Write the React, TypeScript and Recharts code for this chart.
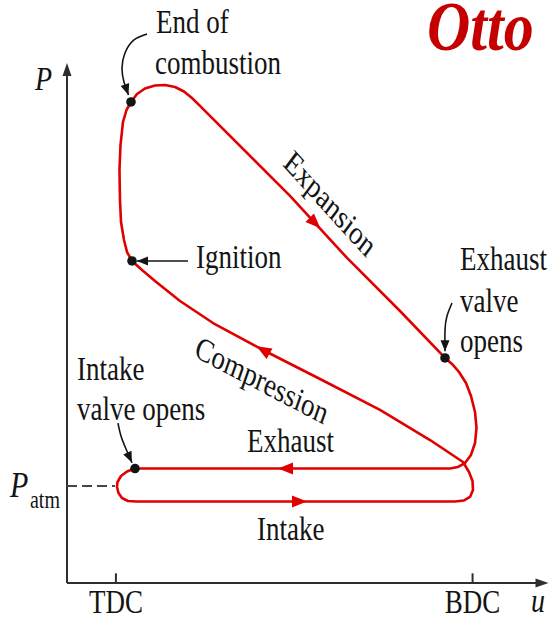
import { ComposedChart, Line, Scatter, XAxis, YAxis, ReferenceLine } from 'recharts'

const RED = '#e00000'
const INK = '#141414'
const AXIS = '#2e2e2e'
const SERIF = "'Liberation Serif', 'Times New Roman', serif"

const WIDTH = 551
const HEIGHT = 622
const MARGIN = { top: 0, right: 2, bottom: 0, left: 67 }
const X_AXIS_H = 39

// specific volume: TDC = 1, BDC = 8 ; pressure: P_atm = 1
const TDC = 1
const BDC = 8
const P_ATM = 1
const V_MIN = 0.04
const V_MAX = 9.5
const P_MAX = 6.01
const P_AXIS_TOP = 5.36

const PX_PER_V = (WIDTH - MARGIN.left - MARGIN.right) / (V_MAX - V_MIN)
const PX_PER_P = (HEIGHT - X_AXIS_H) / P_MAX

// the cycle, stroke by stroke, as [v, P]
const intakeStroke: [number, number][] = [
  [1.375, 1.18], [1.218, 1.149], [1.1, 1.103], [1.031, 1.041], [1.021, 0.99],
  [1.051, 0.928], [1.119, 0.876], [1.237, 0.845], [1.394, 0.84], [7.655, 0.84],
  [7.832, 0.851], [7.95, 0.887], [8.008, 0.959], [7.999, 1.052], [7.93, 1.144],
]
const compressionStroke: [number, number][] = [
  [7.812, 1.247], [7.165, 1.474], [6.183, 1.784], [5.006, 2.103], [3.887, 2.402],
  [2.906, 2.68], [2.258, 2.907], [1.767, 3.113], [1.512, 3.227], [1.316, 3.32],
]
const combustionStroke: [number, number][] = [
  [1.218, 3.412], [1.159, 3.536], [1.1, 3.722], [1.08, 3.948], [1.07, 4.258],
  [1.09, 4.515], [1.139, 4.753], [1.208, 4.876], [1.296, 4.959],
]
const expansionStroke: [number, number][] = [
  [1.414, 5.041], [1.571, 5.098], [1.767, 5.129], [1.963, 5.134], [2.16, 5.113],
  [2.336, 5.067], [2.493, 5.0], [2.65, 4.918], [4.417, 3.99], [5.536, 3.351],
  [6.576, 2.804], [7.459, 2.32],
]
const exhaustStroke: [number, number][] = [
  [7.596, 2.258], [7.734, 2.175], [7.871, 2.062], [7.969, 1.928], [8.048, 1.763],
  [8.077, 1.598], [8.048, 1.443], [7.969, 1.32], [7.851, 1.237], [7.714, 1.196],
  [7.557, 1.18], [1.375, 1.18],
]

// valve / combustion events marked with dots
const eventV = [1.296, 1.316, 7.459, 1.375]
const eventP = [4.959, 3.32, 2.32, 1.18]

// flow direction arrows on the loop: position and heading (dv, dP)
const flowArrows = [
  { v: 4.908, P: 3.711, dv: 1, dP: -0.525 },
  { v: 3.887, P: 2.402, dv: -1, dP: 0.3 },
  { v: 4.328, P: 1.18, dv: -1, dP: 0 },
  { v: 4.603, P: 0.84, dv: 1, dP: 0 },
]

// pointer arrows from the captions to the events
const endCombustionPointer: [number, number][] = [
  [1.61, 5.66], [1.355, 5.598], [1.178, 5.464], [1.119, 5.309], [1.159, 5.165], [1.247, 5.031],
]
const ignitionPointer: [number, number][] = [[2.415, 3.32], [1.414, 3.32]]
const exhaustValvePointer: [number, number][] = [
  [7.596, 2.887], [7.498, 2.753], [7.459, 2.608], [7.459, 2.39],
]
const intakeValvePointer: [number, number][] = [
  [1.041, 1.649], [1.1, 1.515], [1.198, 1.381], [1.316, 1.24],
]

const toPts = (arr: [number, number][]) => arr.map(([v, P]) => ({ v, P }))

const cycle = toPts([
  ...intakeStroke,
  ...compressionStroke,
  ...combustionStroke,
  ...expansionStroke,
  ...exhaustStroke,
])
const events = eventV.map((v, i) => ({ v, P: eventP[i] }))
const pointerTips = [
  { ...toPts(endCombustionPointer).slice(-1)[0], dv: 0.088, dP: -0.134 },
  { ...toPts(ignitionPointer).slice(-1)[0], dv: -1, dP: 0 },
  { ...toPts(exhaustValvePointer).slice(-1)[0], dv: 0, dP: -1 },
  { ...toPts(intakeValvePointer).slice(-1)[0], dv: 0.118, dP: -0.134 },
]
const axisTips = [
  { v: V_MIN, P: P_AXIS_TOP, dv: 0, dP: 1 },
  { v: V_MAX - 0.01, P: 0, dv: 1, dP: 0 },
]

function Arrowhead(props: any) {
  const { cx, cy, payload, fill, length, half, tip } = props
  if (cx == null || cy == null) return null
  const ang = (Math.atan2(-payload.dP * PX_PER_P, payload.dv * PX_PER_V) * 180) / Math.PI
  const front = tip ? 0 : length / 2
  const back = front - length
  return (
    <polygon
      points={`${front},0 ${back},${-half} ${back},${half}`}
      transform={`translate(${cx},${cy}) rotate(${ang})`}
      fill={fill}
    />
  )
}

// serif caption, slightly tall like the textbook lettering
function Caption({ x, y, children, size = 27, italic = false, bold = false, fill = INK, anchor = 'start', angle = 0, stretch = 1.22 }: any) {
  return (
    <text
      transform={`translate(${x},${y}) scale(1,${stretch}) rotate(${angle})`}
      fontFamily={SERIF}
      fontSize={size}
      fontStyle={italic ? 'italic' : 'normal'}
      fontWeight={bold ? 700 : 400}
      fill={fill}
      textAnchor={anchor}
    >
      {children}
    </text>
  )
}

const STROKE_LABELS: Record<number, string> = { [TDC]: 'TDC', [BDC]: 'BDC' }

function StrokeTick({ x, payload }: any) {
  return <Caption x={x} y={613} anchor="middle">{STROKE_LABELS[payload.value]}</Caption>
}

export default function App() {
  return (
    <div style={{ position: 'fixed', left: 0, top: 0, width: WIDTH, height: HEIGHT, background: '#fff' }}>
      <ComposedChart width={WIDTH} height={HEIGHT} margin={MARGIN}>
        <XAxis
          type="number"
          dataKey="v"
          domain={[V_MIN, V_MAX]}
          ticks={[TDC, BDC]}
          interval={0}
          axisLine={false}
          tickLine={false}
          tick={<StrokeTick />}
          height={X_AXIS_H}
        />
        <YAxis type="number" dataKey="P" domain={[0, P_MAX]} hide />

        {/* axes */}
        <Line data={toPts([[V_MIN, 0], [V_MIN, P_AXIS_TOP - 0.05]])} dataKey="P" stroke={AXIS} strokeWidth={2} dot={false} isAnimationActive={false} />
        <Line data={toPts([[V_MIN, 0], [V_MAX - 0.1, 0]])} dataKey="P" stroke={AXIS} strokeWidth={2} dot={false} isAnimationActive={false} />
        <Scatter data={axisTips} fill={AXIS} isAnimationActive={false} shape={(p: any) => <Arrowhead {...p} fill={AXIS} length={13} half={4.5} tip />} />
        <ReferenceLine segment={[{ x: TDC, y: 0 }, { x: TDC, y: 0.1 }]} stroke={AXIS} strokeWidth={2} />
        <ReferenceLine segment={[{ x: BDC, y: 0 }, { x: BDC, y: 0.1 }]} stroke={AXIS} strokeWidth={2} />

        {/* atmospheric pressure */}
        <Line data={toPts([[V_MIN, P_ATM], [0.98, P_ATM]])} dataKey="P" stroke="#444" strokeWidth={2} strokeDasharray="10 5" dot={false} isAnimationActive={false} />

        {/* the cycle */}
        <Line data={cycle} dataKey="P" type="linear" stroke={RED} strokeWidth={2.6} strokeLinejoin="round" dot={false} isAnimationActive={false} />
        <Scatter data={flowArrows} fill={RED} isAnimationActive={false} shape={(p: any) => <Arrowhead {...p} fill={RED} length={15} half={6} />} />

        {/* pointers */}
        <Line data={toPts(endCombustionPointer)} dataKey="P" type="natural" stroke={INK} strokeWidth={1.6} dot={false} isAnimationActive={false} />
        <Line data={toPts(ignitionPointer)} dataKey="P" type="linear" stroke={INK} strokeWidth={1.6} dot={false} isAnimationActive={false} />
        <Line data={toPts(exhaustValvePointer)} dataKey="P" type="natural" stroke={INK} strokeWidth={1.6} dot={false} isAnimationActive={false} />
        <Line data={toPts(intakeValvePointer)} dataKey="P" type="natural" stroke={INK} strokeWidth={1.6} dot={false} isAnimationActive={false} />
        <Scatter data={pointerTips} fill={INK} isAnimationActive={false} shape={(p: any) => <Arrowhead {...p} fill={INK} length={11} half={4.5} tip />} />
        <Scatter data={events} fill={INK} isAnimationActive={false} shape={(p: any) => <circle cx={p.cx} cy={p.cy} r={4.8} fill={INK} />} />

        {/* captions */}
        <Caption x={427} y={50} size={60} italic bold fill="#c40000" stretch={1.15}>Otto</Caption>
        <Caption x={35} y={90} size={28} italic>P</Caption>
        <Caption x={538} y={612} size={28} italic anchor="middle">u</Caption>
        <Caption x={10} y={497} size={30} italic>P</Caption>
        <Caption x={30} y={508} size={20}>atm</Caption>
        <Caption x={156} y={33}>End of</Caption>
        <Caption x={155} y={74}>combustion</Caption>
        <Caption x={196} y={268}>Ignition</Caption>
        <Caption x={460} y={270}>Exhaust</Caption>
        <Caption x={460} y={312}>valve</Caption>
        <Caption x={460} y={352}>opens</Caption>
        <Caption x={77} y={380}>Intake</Caption>
        <Caption x={77} y={420}>valve opens</Caption>
        <Caption x={247} y={452}>Exhaust</Caption>
        <Caption x={257} y={540}>Intake</Caption>
        <Caption x={282} y={165} angle={42.2}>Expansion</Caption>
        <Caption x={193} y={356} angle={23.3}>Compression</Caption>
      </ComposedChart>
    </div>
  )
}
